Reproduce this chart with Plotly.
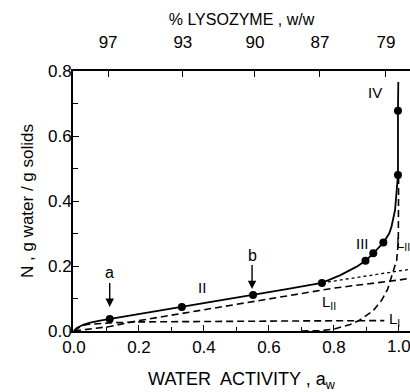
import plotly.graph_objects as go

# Total isotherm (solid)
total_aw = [0, 0.01, 0.03, 0.05, 0.08, 0.11, 0.2, 0.33, 0.45, 0.55, 0.65, 0.763, 0.82, 0.87, 0.897, 0.921, 0.952, 0.97, 0.977, 0.988, 0.997, 0.997, 0.998]
total_n = [0, 0.01, 0.02, 0.026, 0.032, 0.037, 0.052, 0.074, 0.094, 0.111, 0.128, 0.148, 0.172, 0.198, 0.216, 0.239, 0.272, 0.3, 0.321, 0.372, 0.48, 0.678, 0.766]

# measured points
pts_aw = [0.11, 0.332, 0.551, 0.763, 0.897, 0.921, 0.952, 0.997, 0.997]
pts_n = [0.037, 0.074, 0.111, 0.148, 0.216, 0.239, 0.272, 0.48, 0.678]

# component curves (dashed)
l1_aw = [0, 0.01, 0.02, 0.04, 0.07, 0.11, 0.2, 0.4, 0.7, 0.955]
l1_n = [0, 0.008, 0.014, 0.02, 0.023, 0.025, 0.028, 0.03, 0.031, 0.032]

l2_aw = [0, 0.05, 0.11, 0.2, 0.4, 0.6, 0.8, 1.0, 1.034]
l2_n = [0, 0.006, 0.014, 0.032, 0.066, 0.1, 0.132, 0.157, 0.162]

l3_aw = [0.70, 0.757, 0.80, 0.85, 0.88, 0.92, 0.947, 0.965, 0.977, 0.986, 0.993, 0.998, 0.999]
l3_n = [0, 0.001, 0.006, 0.02, 0.034, 0.062, 0.095, 0.128, 0.167, 0.195, 0.218, 0.27, 0.48]

# dotted extrapolation of L_I + L_II
dot_aw = [0.763, 0.9, 1.034]
dot_n = [0.148, 0.17, 0.19]

# axis ticks
x_ticks = [0, 0.2, 0.4, 0.6, 0.8, 1.0]
x_labels = ["0.0", "0.2", "0.4", "0.6", "0.8", "1.0"]
y_ticks = [0, 0.2, 0.4, 0.6, 0.8]
y_labels = ["0.0", "0.2", "0.4", "0.6", "0.8"]
# top axis (% lysozyme)
lys_aw = [0.105, 0.335, 0.557, 0.757, 0.96]
lys_text = ["97", "93", "90", "87", "79"]

FONT = "Liberation Sans"
fig = go.Figure()
dash = "7px,4px"
fig.add_trace(go.Scatter(x=l1_aw, y=l1_n, mode="lines", line=dict(color="black", width=1.6, dash=dash)))
fig.add_trace(go.Scatter(x=l2_aw, y=l2_n, mode="lines", line=dict(color="black", width=1.6, dash=dash)))
fig.add_trace(go.Scatter(x=l3_aw, y=l3_n, mode="lines", line=dict(color="black", width=1.6, dash=dash)))
fig.add_trace(go.Scatter(x=dot_aw, y=dot_n, mode="lines", line=dict(color="black", width=1.3, dash="dot")))
fig.add_trace(go.Scatter(x=total_aw, y=total_n, mode="lines", line=dict(color="black", width=1.8)))
fig.add_trace(go.Scatter(x=pts_aw, y=pts_n, mode="markers", marker=dict(color="black", size=8)))
# dummy trace for top axis
fig.add_trace(go.Scatter(x=[lys_aw[0]], y=[0], xaxis="x2", mode="markers", marker=dict(opacity=0), hoverinfo="skip"))

xr = [-0.003, 1.034]
fig.update_layout(
    width=410, height=392,
    margin=dict(l=73, r=0, t=71, b=61, autoexpand=False),
    paper_bgcolor="white", plot_bgcolor="white",
    showlegend=False,
    font=dict(family=FONT, color="black", size=17),
    xaxis=dict(range=xr, tickvals=x_ticks, ticktext=x_labels,
               ticks="inside", ticklen=6, tickwidth=1.3, tickcolor="black",
               minor=dict(tickvals=[0.1, 0.3, 0.5, 0.7, 0.9], ticks="inside", ticklen=4, tickcolor="black"),
               showline=True, linecolor="black", linewidth=1.8, showgrid=False, zeroline=False,
               tickfont=dict(size=17),
               title=dict(text="WATER  ACTIVITY , a<sub>w</sub>", font=dict(size=18), standoff=24)),
    xaxis2=dict(range=xr, overlaying="x", side="top", tickvals=lys_aw, ticktext=lys_text,
                ticks="inside", ticklen=6, tickwidth=1.3, tickcolor="black",
                showline=True, linecolor="black", linewidth=1.5, showgrid=False, zeroline=False,
                tickfont=dict(size=17), ticklabelstandoff=14,
                title=dict(text="% LYSOZYME , w/w", font=dict(size=16), standoff=4)),
    yaxis=dict(range=[0, 0.8], tickvals=y_ticks, ticktext=y_labels,
               ticks="inside", ticklen=6, tickwidth=1.3, tickcolor="black",
               minor=dict(tickvals=[0.1, 0.3, 0.5, 0.7], ticks="inside", ticklen=5, tickcolor="black"),
               showline=True, linecolor="black", linewidth=1.8, showgrid=False, zeroline=False,
               tickfont=dict(size=17), ticklabelstandoff=-4,
               title=dict(text="N , g water / g solids", font=dict(size=17), standoff=10)),
)

ann = [
    dict(x=0.394, y=0.135, text="II"),
    dict(x=0.889, y=0.27, text="III"),
    dict(x=0.926, y=0.735, text="IV"),
    dict(x=1.012, y=0.27, text="L<sub>II</sub>"),
    dict(x=0.785, y=0.088, text="L<sub>II</sub>"),
    dict(x=0.985, y=0.035, text="L<sub>I</sub>"),
]
for a in ann:
    fig.add_annotation(x=a["x"], y=a["y"], text=a["text"], showarrow=False,
                       font=dict(size=15, family=FONT, color="black"), xref="x", yref="y")

for xx, yy, t in [(0.11, 0.074, "a"), (0.548, 0.129, "b")]:
    fig.add_annotation(x=xx, y=yy, text=t, showarrow=True, arrowhead=2, arrowsize=1.2, arrowwidth=1.4,
                       arrowcolor="black", ax=0, ay=-34, font=dict(size=16, family=FONT, color="black"),
                       xref="x", yref="y")

# last bottom tick label (cut at the right edge as in the original)
fig.add_annotation(x=x_ticks[-1], y=0, xref="x", yref="paper", yanchor="top", yshift=-4,
                   text=x_labels[-1], showarrow=False, font=dict(size=17, family=FONT, color="black"))

fig.write_html("out.html", config={"displayModeBar": False},
               post_script="document.body.style.margin='0';document.body.style.padding='0';")
